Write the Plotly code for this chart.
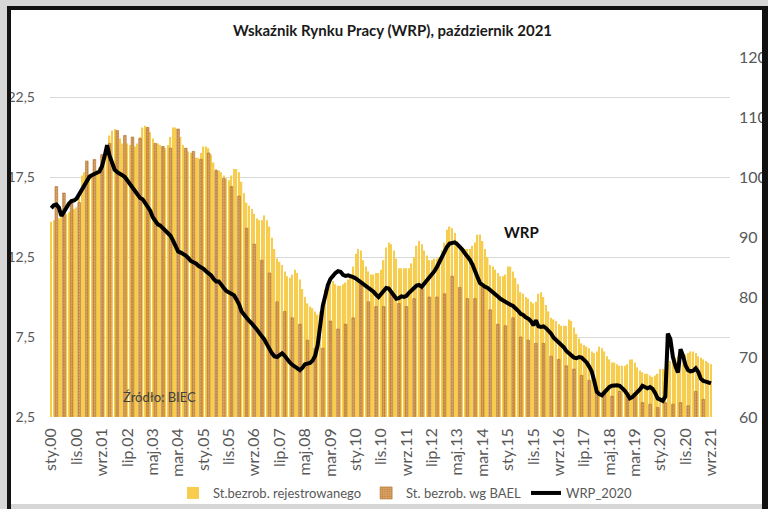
import plotly.graph_objects as go

# ---------------- data ----------------
# Registered unemployment rate, monthly Jan 2000 - Sep 2021 (left axis, %)
reg_unemp = [
    14.7, 14.8, 14.9, 14.9, 15.0, 15.1, 15.2, 15.3, 15.4, 15.5, 15.6, 16.2,   # 2000
    17.6, 17.8, 17.8, 17.7, 17.6, 17.7, 17.9, 18.1, 18.4, 18.7, 19.1, 20.1,   # 2001
    20.4, 20.5, 20.3, 19.9, 19.6, 19.5, 19.6, 19.5, 19.5, 19.4, 19.6, 20.0,   # 2002
    20.6, 20.7, 20.6, 20.3, 19.9, 19.6, 19.6, 19.5, 19.4, 19.3, 19.5, 20.0,   # 2003
    20.6, 20.6, 20.4, 20.0, 19.5, 19.3, 19.1, 19.0, 18.9, 18.7, 18.7, 19.0,   # 2004
    19.4, 19.4, 19.3, 18.9, 18.4, 18.0, 17.9, 17.8, 17.6, 17.4, 17.3, 17.6,   # 2005
    18.0, 18.0, 17.8, 17.2, 16.5, 15.9, 15.7, 15.5, 15.2, 14.9, 14.8, 14.8,   # 2006
    15.1, 14.8, 14.4, 13.7, 13.0, 12.4, 12.2, 12.0, 11.6, 11.3, 11.2, 11.4,   # 2007
    11.7, 11.5, 11.1, 10.5, 10.0, 9.6, 9.4, 9.3, 9.1, 8.9, 9.1, 9.5,          # 2008
    10.5, 10.9, 11.2, 11.0, 10.8, 10.7, 10.7, 10.8, 10.9, 11.1, 11.4, 11.9,   # 2009
    12.7, 13.0, 12.9, 12.3, 11.9, 11.6, 11.4, 11.4, 11.5, 11.5, 11.7, 12.3,   # 2010
    13.1, 13.4, 13.3, 12.9, 12.4, 11.8, 11.8, 11.8, 11.8, 11.8, 12.1, 12.5,   # 2011
    13.2, 13.5, 13.3, 12.9, 12.6, 12.3, 12.3, 12.4, 12.4, 12.5, 12.9, 13.4,   # 2012
    14.2, 14.4, 14.3, 14.0, 13.5, 13.2, 13.1, 13.0, 13.0, 13.0, 13.2, 13.4,   # 2013
    13.9, 13.9, 13.5, 13.0, 12.5, 12.0, 11.9, 11.7, 11.5, 11.3, 11.3, 11.4,   # 2014
    11.9, 11.9, 11.6, 11.2, 10.8, 10.3, 10.2, 10.0, 9.9, 9.7, 9.6, 9.7,       # 2015
    10.2, 10.3, 10.0, 9.5, 9.1, 8.7, 8.6, 8.5, 8.3, 8.2, 8.2, 8.2,            # 2016
    8.6, 8.5, 8.1, 7.7, 7.4, 7.1, 7.0, 6.9, 6.8, 6.6, 6.5, 6.6,               # 2017
    6.9, 6.8, 6.6, 6.3, 6.1, 5.9, 5.9, 5.8, 5.7, 5.7, 5.7, 5.8,               # 2018
    6.1, 6.1, 5.9, 5.6, 5.4, 5.3, 5.2, 5.2, 5.1, 5.0, 5.1, 5.2,               # 2019
    5.5, 5.5, 5.4, 5.8, 6.0, 6.1, 6.2, 6.3, 6.3, 6.3, 6.4, 6.5,               # 2020
    6.6, 6.6, 6.5, 6.3, 6.2, 6.1, 6.0, 5.9, 5.8,                             # 2021 (to Sep)
]

# LFS (BAEL) unemployment rate, quarterly Q1 2000 - Q2 2021 (left axis, %)
bael_unemp = [
    16.9, 16.5, 16.1, 15.9,   # 2000
    18.5, 18.6, 18.9, 19.6,   # 2001
    20.4, 20.1, 20.0, 19.9,   # 2002
    20.6, 19.6, 19.4, 19.3,   # 2003
    20.5, 19.3, 19.1, 18.6,   # 2004
    19.0, 17.9, 17.4, 16.9,   # 2005
    16.3, 14.3, 13.3, 12.3,   # 2006
    11.5, 9.7, 9.1, 8.7,      # 2007
    8.3, 7.3, 6.8, 6.8,       # 2008
    8.5, 8.0, 8.3, 8.7,       # 2009
    10.8, 9.7, 9.4, 9.4,      # 2010
    10.3, 9.6, 9.4, 9.9,      # 2011
    10.5, 10.0, 10.0, 10.2,   # 2012
    11.3, 10.6, 9.9, 9.9,     # 2013
    10.6, 9.2, 8.3, 8.2,      # 2014
    8.7, 7.5, 7.3, 7.1,       # 2015
    7.1, 6.3, 6.1, 5.7,       # 2016
    5.5, 5.1, 4.8, 4.1,       # 2017
    4.0, 3.8, 4.1, 3.8,       # 2018
    4.0, 3.4, 3.3, 3.1,       # 2019
    3.4, 3.3, 3.4, 3.2,       # 2020
    4.1, 3.6,                 # 2021
]

# Labour Market Index WRP_2020, monthly Jan 2000 - Sep 2021 (right axis)
wrp = [
    94.8, 95.3, 95.4, 94.9, 93.5, 94.3, 95.0, 95.6, 96.0, 96.1, 96.4, 97.1,     # 2000
    97.8, 98.5, 99.3, 100.0, 100.3, 100.6, 100.7, 100.9, 101.8, 103.4, 105.3, 103.5,  # 2001
    102.2, 101.2, 100.8, 100.6, 100.3, 100.0, 99.4, 99.0, 98.2, 97.6, 97.2, 96.5,  # 2002
    96.3, 95.6, 95.0, 94.4, 93.3, 92.6, 92.1, 91.9, 91.5, 91.2, 90.8, 90.2,     # 2003
    89.4, 88.5, 87.6, 87.4, 87.2, 86.9, 86.5, 86.0, 85.8, 85.6, 85.2, 85.0,     # 2004
    84.7, 84.3, 84.0, 83.6, 83.0, 82.6, 82.6, 81.9, 81.5, 81.0, 80.8, 80.6,     # 2005
    80.3, 79.6, 78.8, 77.6, 77.0, 76.5, 76.0, 75.6, 75.2, 74.6, 74.0, 73.5,     # 2006
    72.9, 72.1, 71.3, 70.6, 70.1, 70.0, 70.3, 70.6, 70.2, 69.5, 69.1, 68.7,     # 2007
    68.4, 68.0, 67.8, 68.2, 68.8, 68.9, 69.0, 69.4, 70.2, 72.0, 75.5, 78.5,     # 2008
    80.2, 82.0, 83.0, 83.6, 84.0, 84.3, 84.2, 83.7, 83.5, 83.6, 83.5, 83.3,     # 2009
    83.1, 82.8, 82.4, 82.1, 81.9, 81.6, 81.3, 80.9, 80.4, 80.0, 80.5, 81.1,     # 2010
    81.5, 81.4, 80.9, 80.3, 79.7, 79.8, 80.1, 80.0, 80.2, 80.7, 81.2, 81.5,     # 2011
    81.9, 82.0, 81.7, 82.2, 82.9, 83.4, 83.9, 84.3, 85.0, 85.9, 86.8, 87.8,     # 2012
    88.4, 88.9, 89.0, 89.1, 88.8, 88.4, 87.9, 87.3, 86.8, 86.2, 85.4, 84.5,     # 2013
    83.3, 82.3, 81.9, 81.7, 81.5, 81.2, 80.8, 80.5, 80.1, 79.7, 79.4, 79.1,     # 2014
    78.9, 78.7, 78.5, 78.2, 77.7, 77.2, 77.0, 76.6, 76.4, 76.0, 75.3, 76.1,     # 2015
    75.1, 75.0, 75.1, 74.8, 74.4, 73.9, 73.2, 72.8, 72.4, 72.2, 71.6, 71.0,     # 2016
    70.6, 70.4, 69.9, 69.8, 70.0, 69.9, 69.5, 69.1, 68.4, 67.6, 66.0, 64.2,     # 2017
    63.8, 63.6, 64.1, 64.6, 65.0, 65.2, 65.3, 65.3, 65.2, 64.9, 64.4, 63.8,     # 2018
    63.1, 63.3, 63.7, 64.1, 64.6, 65.2, 64.9, 64.8, 65.0, 64.7, 64.0, 63.1,     # 2019
    62.9, 62.7, 63.4, 73.9, 73.0, 70.0, 68.5, 67.4, 71.3, 70.2, 68.6, 67.8,     # 2020
    67.6, 67.7, 68.1, 67.5, 66.4, 66.0, 65.9, 65.7, 65.6,                       # 2021
]

# x-axis labels, one every 10 months starting at Jan 2000
tick_labels = ["sty.00", "lis.00", "wrz.01", "lip.02", "maj.03", "mar.04", "sty.05",
               "lis.05", "wrz.06", "lip.07", "maj.08", "mar.09", "sty.10", "lis.10",
               "wrz.11", "lip.12", "maj.13", "mar.14", "sty.15", "lis.15", "wrz.16",
               "lip.17", "maj.18", "mar.19", "sty.20", "lis.20", "wrz.21"]
left_ticks = [2.5, 7.5, 12.5, 17.5, 22.5]
left_tick_text = ["2,5", "7,5", "12,5", "17,5", "22,5"]

# ---------------- figure ----------------
month_idx = list(range(len(reg_unemp)))
bael_idx = [2 + 3 * k for k in range(len(bael_unemp))]   # last month of each quarter
tick_idx = [10 * k for k in range(len(tick_labels))]

FONT = "Lato"
GREY = "#595959"

fig = go.Figure()
fig.add_trace(go.Bar(
    x=month_idx, y=reg_unemp, width=0.55, name="St.bezrob. rejestrowanego",
    marker=dict(color="#F6CD4E", line=dict(width=0)),
))
fig.add_trace(go.Bar(
    x=bael_idx, y=bael_unemp, width=1.05, name="St. bezrob. wg BAEL",
    marker=dict(color="#C88A40", line=dict(color="#B06E2A", width=0.6),
                pattern=dict(shape=".", fgcolor="#A8642A", bgcolor="#D9A463", size=3, solidity=0.4)),
))
fig.add_trace(go.Scatter(
    x=month_idx, y=wrp, yaxis="y2", mode="lines", name="WRP_2020",
    line=dict(color="black", width=4),
))

W, H = 768, 509
L, R, T, B = 50, 38, 57, 92
pw, ph = W - L - R, H - T - B


def px(xp):
    return (xp - L) / pw


def py(yp):
    return (H - B - yp) / ph


shapes = [
    # outer frame
    dict(type="rect", xref="paper", yref="paper", x0=px(0), x1=px(W), y0=py(0), y1=py(6),
         fillcolor="#D6D6D6", line=dict(width=0), layer="above"),
    dict(type="rect", xref="paper", yref="paper", x0=px(0), x1=px(W), y0=py(6), y1=py(10),
         fillcolor="#111111", line=dict(width=0), layer="above"),
    dict(type="rect", xref="paper", yref="paper", x0=px(0), x1=px(7), y0=py(6), y1=py(H),
         fillcolor="#D6D6D6", line=dict(width=0), layer="above"),
    dict(type="rect", xref="paper", yref="paper", x0=px(7), x1=px(11), y0=py(6), y1=py(H),
         fillcolor="#111111", line=dict(width=0), layer="above"),
    dict(type="rect", xref="paper", yref="paper", x0=px(762), x1=px(W), y0=py(6), y1=py(H),
         fillcolor="#111111", line=dict(width=0), layer="above"),
    dict(type="rect", xref="paper", yref="paper", x0=px(11), x1=px(762), y0=py(504), y1=py(H),
         fillcolor="#D6D6D6", line=dict(width=0), layer="above"),
]

annotations = [
    dict(text="<b>Wskaźnik Rynku Pracy (WRP), październik 2021</b>", xref="paper", yref="paper",
         x=px(392), y=py(30), showarrow=False, xanchor="center", yanchor="middle",
         font=dict(family=FONT, size=15, color="#1a1a1a")),
    dict(text="Źródło: BIEC", xref="paper", yref="paper", x=px(159), y=py(397),
         showarrow=False, xanchor="center", yanchor="middle",
         font=dict(family=FONT, size=13, color="#404040")),
    dict(text="<b>WRP</b>", xref="paper", yref="paper", x=px(521), y=py(232),
         showarrow=False, xanchor="center", yanchor="middle",
         font=dict(family=FONT, size=15, color="#111111")),
]

fig.update_layout(
    width=W, height=H,
    margin=dict(l=L, r=R, t=T, b=B, pad=0, autoexpand=False),
    paper_bgcolor="white", plot_bgcolor="white",
    barmode="overlay",
    showlegend=True,
    legend=dict(orientation="h", x=px(405), xanchor="center", y=py(493), yanchor="middle",
                font=dict(family=FONT, size=13, color=GREY), itemwidth=30,
                bgcolor="rgba(0,0,0,0)"),
    xaxis=dict(range=[-0.5, 267.5], tickmode="array", tickvals=tick_idx, ticktext=tick_labels,
               tickangle=-90, tickfont=dict(family=FONT, size=16, color=GREY),
               showgrid=False, zeroline=False, showline=False, ticks="",
               ticklabelstandoff=7, automargin=False),
    yaxis=dict(range=[2.5, 25], tickmode="array", tickvals=left_ticks, ticktext=left_tick_text,
               tickfont=dict(family=FONT, size=14, color=GREY), gridcolor="#D9D9D9",
               gridwidth=1, zeroline=False, showline=False, ticks="", ticklabelstandoff=14,
               automargin=False),
    yaxis2=dict(range=[60, 120], dtick=10, overlaying="y", side="right", showgrid=False,
                zeroline=False, showline=False, ticks="", automargin=False,
                tickfont=dict(family=FONT, size=16, color=GREY), ticklabelstandoff=8),
    shapes=shapes,
    annotations=annotations,
    font=dict(family=FONT),
)

fig.write_html("out.html")
